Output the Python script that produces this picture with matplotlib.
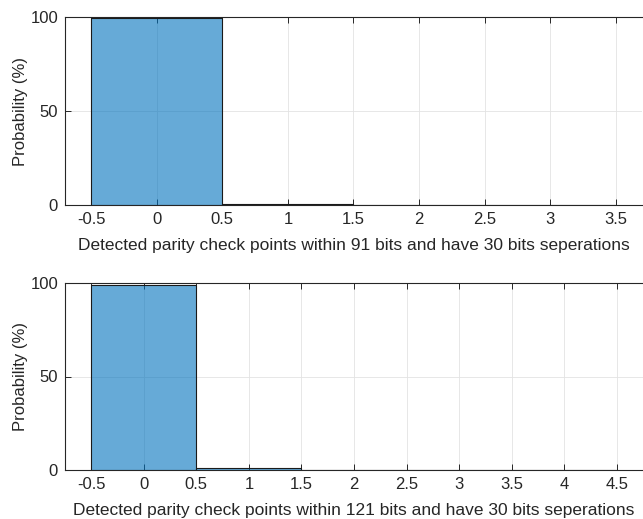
import numpy as np
import matplotlib.pyplot as plt

plt.rcParams['font.family'] = ['Liberation Sans', 'DejaVu Sans']

# bin centres and probabilities (%)
bins_91 = [0, 1, 2, 3]
prob_91 = [99.3, 0.7, 0.0, 0.0]
bins_121 = [0, 1, 2, 3, 4]
prob_121 = [98.7, 1.3, 0.0, 0.0, 0.0]

xlabel_91 = 'Detected parity check points within 91 bits and have 30 bits seperations'
xlabel_121 = 'Detected parity check points within 121 bits and have 30 bits seperations'

fig = plt.figure(figsize=(6.43, 5.19), dpi=100)
ax1 = fig.add_axes([65/643, 1-205/519, 577/643, 188/519])
ax2 = fig.add_axes([65/643, 1-470/519, 578/643, 187/519])

face = (0.0, 0.447, 0.741, 0.6)
edge = '#1a1a1a'
axcol = '#262626'

def draw(ax, bins, prob, xlim, xticks, xlabel):
    ax.bar(bins, prob, width=1.0, color=face, edgecolor=edge, linewidth=0.8, zorder=3)
    ax.set_xlim(*xlim)
    ax.set_ylim(0, 100)
    ax.set_xticks(xticks)
    ax.set_xticklabels([('%g' % t) for t in xticks])
    ax.set_yticks([0, 50, 100])
    ax.grid(True, color='#e3e3e3', linewidth=0.6, zorder=0)
    ax.set_axisbelow(True)
    ax.tick_params(direction='in', top=True, right=False, length=4, colors=axcol,
                   labelsize=12, labelcolor='#262626', width=0.7, pad=5)
    for s in ax.spines.values():
        s.set_color(axcol)
        s.set_linewidth(0.8)
    ax.spines['right'].set_visible(False)
    ax.set_xlabel(xlabel, fontsize=12.5, color='#262626', labelpad=8)
    ax.set_ylabel('Probability (%)', fontsize=12, color='#262626', labelpad=2)

draw(ax1, bins_91, prob_91, (-0.7, 3.7), np.arange(-0.5, 3.6, 0.5), xlabel_91)
draw(ax2, bins_121, prob_121, (-0.75, 4.75), np.arange(-0.5, 4.6, 0.5), xlabel_121)

fig.savefig('out.png', dpi=100)
